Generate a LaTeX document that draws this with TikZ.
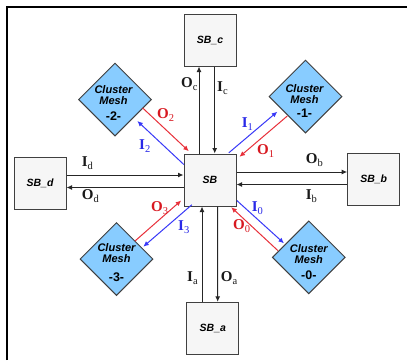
\documentclass[tikz,border=0pt]{standalone}
\usepackage{fontspec}
\setmainfont{Liberation Serif}
\newfontfamily\hvfont{Liberation Sans}
\usetikzlibrary{shapes.geometric,arrows.meta}
\definecolor{boxfill}{HTML}{F6F6F6}
\definecolor{boxline}{HTML}{404040}
\definecolor{meshfill}{HTML}{88CCFF}
\definecolor{redarr}{HTML}{E8303A}
\definecolor{bluearr}{HTML}{3838F8}
\definecolor{redlab}{HTML}{D81820}
\definecolor{bluelab}{HTML}{2828E8}
\newcommand{\sbname}[1]{{\hvfont\fontsize{10.5}{12}\selectfont\bfseries\itshape #1}}
\newcommand{\meshtext}[4]{\makebox[0pt]{\hspace{#1pt}\raisebox{#2pt}[0pt][0pt]{\begin{tabular}{@{}c@{}}{\itshape Cluster}\\[-0.5pt]{\itshape Mesh}\\[#3pt]{\fontsize{12.5}{13}\selectfont\bfseries -#4-}\end{tabular}}}}
\newcommand{\lbl}[2]{#1\raisebox{-3.2pt}{\fontsize{10.5}{11}\selectfont\mdseries #2}}
\tikzset{
  sbbox/.style={draw=boxline,fill=boxfill,line width=1pt,minimum width=52pt,minimum height=52pt,inner sep=0pt},
  mesh/.style={diamond,aspect=1,draw=boxline,fill=meshfill,line width=1pt,minimum width=73pt,minimum height=73pt,inner sep=0pt,font=\hvfont\fontsize{11}{11.5}\selectfont\bfseries},
  arr/.style={draw=black!85,line width=1pt,-{Latex[length=5.5pt,width=5pt]}},
  redline/.style={arr,draw=redarr,-{Latex[length=5.5pt,width=5pt,fill=redarr]}},
  blueline/.style={arr,draw=bluearr,-{Latex[length=5.5pt,width=5pt,fill=bluearr]}},
  tag/.style={anchor=base west,inner sep=0pt,font=\fontsize{15}{16}\selectfont\bfseries,text=black!90},
  redtag/.style={tag,text=redlab},
  bluetag/.style={tag,text=bluelab}
}
\begin{document}
\begin{tikzpicture}[x=1pt,y=-1pt]
\useasboundingbox (0,0) rectangle (407,360);
\fill[white] (0,0) rectangle (407,360);
\draw[line width=2pt,black] (6.5,360) -- (6.5,6.5) -- (407,6.5);
% boxes
\node[sbbox] (sb) at (210,180) {\sbname{SB}};
\node[sbbox] (sbc) at (210,40) {\sbname{SB\_c}};
\node[sbbox] (sba) at (212.85,328.35) {\sbname{SB\_a}};
\node[sbbox] (sbd) at (40,183) {\sbname{SB\_d}};
\node[sbbox] (sbb) at (373.7,179.5) {\sbname{SB\_b}};
% meshes
\node[mesh] (m2) at (115,99.5) {\meshtext{-3}{-8.3}{3.7}{2}};
\node[mesh] (m1) at (305.5,96.5) {\meshtext{-2}{-8.9}{2.6}{1}};
\node[mesh] (m3) at (116.5,259) {\meshtext{0}{-7.9}{6}{3}};
\node[mesh] (m0) at (308.8,257.3) {\meshtext{0}{-9.1}{3}{0}};
% straight connectors
\draw[arr] ([shift={(-11,0)}]sb.north) -- ([shift={(-11,0)}]sbc.south);
\draw[arr] ([shift={(4.7,0)}]sbc.south) -- ([shift={(4.7,0)}]sb.north);
\draw[arr] ([shift={(0,-8)}]sbd.east) -- ([shift={(0,-5)}]sb.west);
\draw[arr] ([shift={(0,7.5)}]sb.west) -- ([shift={(0,4.5)}]sbd.east);
\draw[arr] ([shift={(0,-8)}]sb.east) -- ([shift={(0,-7.5)}]sbb.west);
\draw[arr] ([shift={(0,5)}]sbb.west) -- ([shift={(0,4.5)}]sb.east);
\draw[arr] ([shift={(-10.85,0)}]sba.north) -- ([shift={(-8,0)}]sb.south);
\draw[arr] ([shift={(7.7,0)}]sb.south) -- ([shift={(4.85,0)}]sba.north);
% diagonal connectors
\draw[redline] ([shift={(27.7,8.5)}]m2.center) -- ([shift={(5.3,-2.3)}]sb.north west);
\draw[blueline] ([shift={(0.3,11)}]sb.north west) -- ([shift={(22.3,21.5)}]m2.center);
\draw[blueline] ([shift={(-7.7,-0.7)}]sb.north east) -- ([shift={(-28.2,15.2)}]m1.center);
\draw[redline] ([shift={(-18.2,19.5)}]m1.center) -- ([shift={(3,3.3)}]sb.north east);
\draw[redline] ([shift={(18.5,-18)}]m3.center) -- ([shift={(-2.3,-6)}]sb.south west);
\draw[blueline] ([shift={(8.3,-1.7)}]sb.south west) -- ([shift={(26.8,-12.3)}]m3.center);
\draw[blueline] ([shift={(0.3,-6)}]sb.south east) -- ([shift={(-24.8,-14)}]m0.center);
\draw[redline] ([shift={(-30.8,-6.6)}]m0.center) -- ([shift={(-5.3,0.7)}]sb.south east);
% labels
\node[tag] (lOc) at (181,87) {\lbl{O}{c}};
\node[tag] (lIc) at (217,91) {\lbl{I}{c}};
\node[tag] (lId) at (81.7,166.7) {\lbl{I}{d}};
\node[tag] (lOd) at (81.7,199.3) {\lbl{O}{d}};
\node[tag] (lOb) at (305.7,163.3) {\lbl{O}{b}};
\node[tag] (lIb) at (305.7,199.3) {\lbl{I}{b}};
\node[tag] (lIa) at (187,281.7) {\lbl{I}{a}};
\node[tag] (lOa) at (220.7,281.7) {\lbl{O}{a}};
\node[redtag] (lO2) at (157,118) {\lbl{O}{2}};
\node[bluetag] (lI2) at (139,149) {\lbl{I}{2}};
\node[bluetag] (lI1) at (241.7,127) {\lbl{I}{1}};
\node[redtag] (lO1) at (257,154) {\lbl{O}{1}};
\node[redtag] (lO3) at (151,211.7) {\lbl{O}{3}};
\node[bluetag] (lI3) at (178,230) {\lbl{I}{3}};
\node[bluetag] (lI0) at (251.7,211.7) {\lbl{I}{0}};
\node[redtag] (lO0) at (233,229.3) {\lbl{O}{0}};
\end{tikzpicture}
\end{document}
